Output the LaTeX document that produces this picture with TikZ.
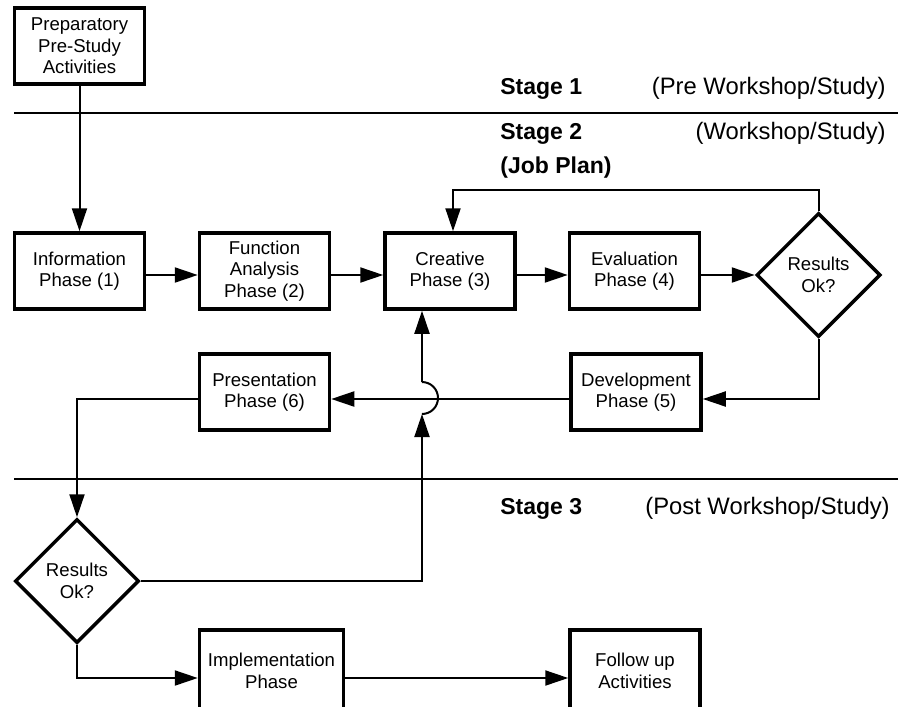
\documentclass[tikz,border=0pt]{standalone}
\usepackage{fontspec}
\setmainfont{Liberation Sans}
\usetikzlibrary{shapes.geometric,arrows.meta}

\begin{document}
\begin{tikzpicture}[x=0.5pt,y=-0.5pt,
  box/.style={draw,line width=1.75pt,minimum width=65pt,minimum height=38pt,
    inner sep=0pt,align=center,font=\fontsize{9.3}{10.75}\selectfont},
  decision/.style={draw,diamond,aspect=1,line width=1.75pt,minimum width=62pt,
    minimum height=62pt,inner sep=0pt,align=center,font=\fontsize{9.3}{10.75}\selectfont},
  wire/.style={line width=1pt},
  arr/.style={wire,-{Triangle[length=11.5pt,width=7.5pt]}},
  stageline/.style={line width=1pt},
  stagelabel/.style={font=\fontsize{11.5}{13}\selectfont\bfseries,anchor=base west,inner sep=0pt},
  stagenote/.style={font=\fontsize{11.9}{13}\selectfont,anchor=base east,inner sep=0pt}]

\useasboundingbox (0,0) rectangle (898,706);

% stage separators
\coordinate (s1a) at (14,113);  \coordinate (s1b) at (898,113);
\coordinate (s2a) at (14,479);  \coordinate (s2b) at (898,479);
\draw[stageline] (s1a) -- (s1b);
\draw[stageline] (s2a) -- (s2b);

% stage captions
\node[stagelabel] (st1) at (500,95) {Stage 1};
\node[stagenote]  (st1n) at (886,95) {(Pre Workshop/Study)};
\node[stagelabel] (st2) at (500,140) {Stage 2};
\node[stagenote]  (st2n) at (886,140) {(Workshop/Study)};
\node[stagelabel] (st2b) at (500,173) {(Job Plan)};
\node[stagelabel] (st3) at (500,514) {Stage 3};
\node[stagenote]  (st3n) at (890,514) {(Post Workshop/Study)};

% process steps
\node[box] (prep)   at (79.5,46)  {Preparatory\\Pre-Study\\Activities};
\node[box] (info)   at (79.5,271) {Information\\Phase (1)};
\node[box] (func)   at (264.5,271) {Function\\Analysis\\Phase (2)};
\node[box] (creat)  at (450,271)  {Creative\\Phase (3)};
\node[box] (eval)   at (634.5,271) {Evaluation\\Phase (4)};
\node[decision] (d1) at (818.5,275) {Results\\Ok?};
\node[box] (dev)    at (636,392)  {Development\\Phase (5)};
\node[box] (pres)   at (264.5,392) {Presentation\\Phase (6)};
\node[decision] (d2) at (77,581)  {Results\\Ok?};
% the last row runs past the lower edge of the sheet
\node[box,minimum width=72pt,minimum height=41pt] (impl) at (271.5,671) {Implementation\\Phase};
\node[box,minimum height=41pt] (follow) at (635,671)  {Follow up\\Activities};

% main flow
\draw[arr] (prep.south) -- (info.north);
\draw[arr] ([yshift=-2pt]info.east) -- ([yshift=-2pt]func.west);
\draw[arr] ([yshift=-2pt]func.east) -- ([yshift=-2pt]creat.west);
\draw[arr] ([yshift=-2pt]creat.east) -- ([yshift=-2pt]eval.west);
\draw[arr] ([yshift=-2pt]eval.east) -- (d1.west);

% loop back to the creative phase
\coordinate (fbtop) at (453,190);
\draw[arr] (d1.north) |- (fbtop) -- (fbtop |- creat.north);

% on to development and presentation
\draw[arr] (d1.south) |- ([yshift=-3.5pt]dev.east);
\draw[arr] ([yshift=-3.5pt]dev.west) -- ([yshift=-3.5pt]pres.east);
\draw[arr] ([yshift=-3.5pt]pres.west) -| (d2.north);

% second review, hopping over the development line
\coordinate (hoplo) at (422,414);
\coordinate (hophi) at (422,382);
\draw[arr] (d2.east) -| (hoplo);
\draw[wire] (hoplo) arc[start angle=-90,end angle=90,radius=8pt];
\draw[arr] (hophi) -- (hophi |- creat.south);

% post-study
\draw[arr] (d2.south) |- ([yshift=-3.5pt]impl.west);
\draw[arr] ([yshift=-3.5pt]impl.east) -- ([yshift=-3.5pt]follow.west);
\end{tikzpicture}
\end{document}
